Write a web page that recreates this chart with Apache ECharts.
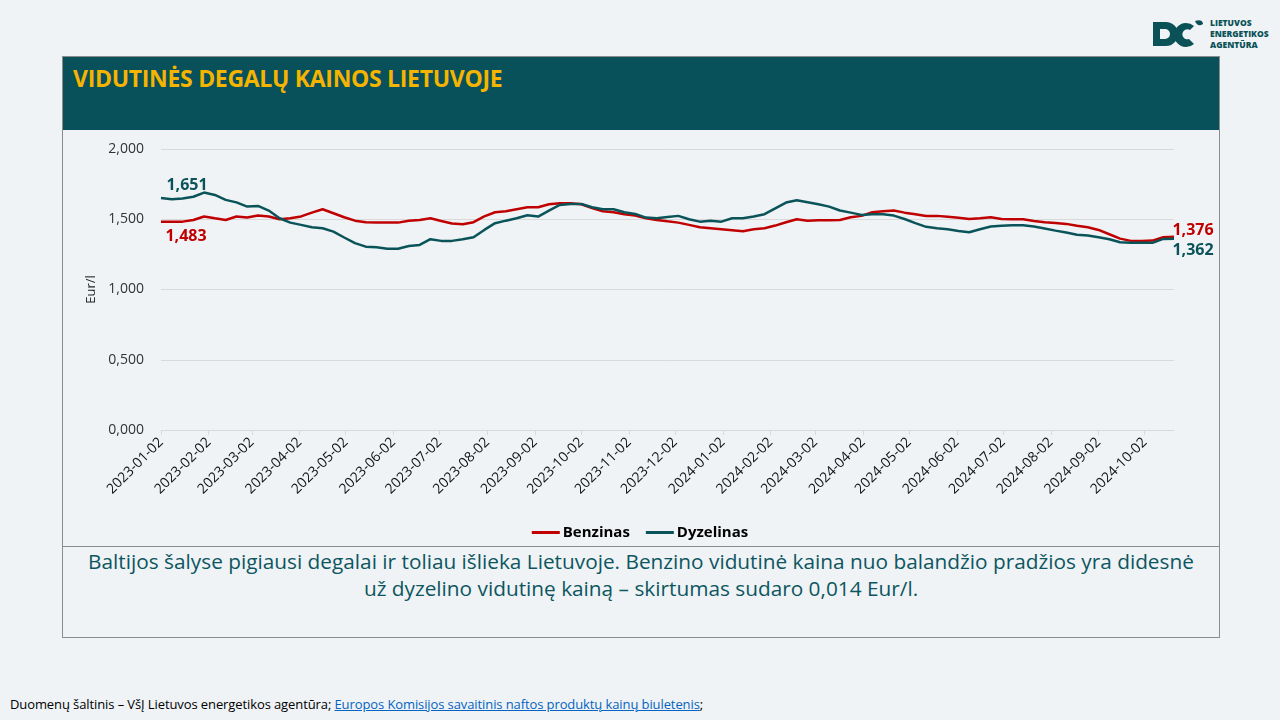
<!DOCTYPE html>
<html>
<head>
<meta charset="utf-8">
<script src="https://cdn.jsdelivr.net/npm/echarts@6/dist/echarts.min.js"></script>
<style>
  html, body { margin:0; padding:0; width:1280px; height:720px; background:#eff3f6; overflow:hidden; font-family:"Open Sans", sans-serif; }
  .abs { position:absolute; }
  #frame { left:62px; top:56px; width:1156px; height:580px; border:1px solid #8c8c8c; }
  #header { left:63px; top:57px; width:1156px; height:73px; background:#08505a; }
  #title { left:73px; top:62px; font-weight:700; font-size:23px; color:#f5b400; letter-spacing:-0.3px; }
  #divider { left:63px; top:546px; width:1156px; height:1px; background:#8c8c8c; }
  #note { left:63px; top:548px; width:1156px; text-align:center; font-size:20.8px; line-height:27px; color:#0d5660; }
  #footer { left:10px; top:695px; font-size:13px; color:#000; white-space:nowrap; letter-spacing:-0.1px; }
  #footer a { color:#0563c1; text-decoration:underline; }
  #logoText { left:1210px; top:17px; font-size:8.5px; line-height:11px; font-weight:800; color:#0b5258; }
  #chart { left:0; top:0; width:1280px; height:720px; }
</style>
</head>
<body>
<div id="frame" class="abs"></div>
<div id="header" class="abs"></div>
<div id="title" class="abs">VIDUTINĖS DEGALŲ KAINOS LIETUVOJE</div>
<div id="divider" class="abs"></div>
<div id="note" class="abs">Baltijos šalyse pigiausi degalai ir toliau išlieka Lietuvoje. Benzino vidutinė kaina nuo balandžio pradžios yra didesnė<br>už dyzelino vidutinę kainą – skirtumas sudaro 0,014 Eur/l.</div>
<div id="footer" class="abs">Duomenų šaltinis – VšĮ Lietuvos energetikos agentūra; <a href="#">Europos Komisijos savaitinis naftos produktų kainų biuletenis</a>;</div>
<svg class="abs" style="left:1150px;top:18px" width="56" height="32" viewBox="0 0 56 32">
  <path d="M3 4 H16 A12 12 0 0 1 16 28 H3 Z M10 11 V21 H15 A5 5 0 0 0 15 11 Z" fill="#0b5258" fill-rule="evenodd"/>
  <path d="M44 8 A12 12 0 1 0 44 26 L39 21 A5 5 0 1 1 40 12 Z" fill="#0b5258"/>
  <path d="M45 3 C50 1 53 3 53 6 C50 8 47 8 45 3 Z" fill="#0b5258"/>
</svg>
<div id="logoText" class="abs">LIETUVOS<br>ENERGETIKOS<br>AGENTŪRA</div>
<div id="chart" class="abs"></div>
<script>
// ---- data ----
const START_DATE = '2023-01-02';   // first weekly observation (Monday)
const END_DATE = '2024-10-21';     // last weekly observation
const tickLabels = ['2023-01-02','2023-02-02','2023-03-02','2023-04-02','2023-05-02','2023-06-02','2023-07-02','2023-08-02','2023-09-02','2023-10-02','2023-11-02','2023-12-02','2024-01-02','2024-02-02','2024-03-02','2024-04-02','2024-05-02','2024-06-02','2024-07-02','2024-08-02','2024-09-02','2024-10-02'];
const benzinas = [
  1.483,1.483,1.483,1.495,1.520,1.507,1.495,1.520,1.512,1.526,1.520,1.500,1.507,1.520,1.547,1.571,1.543,1.514,1.490,1.479,1.476,1.476,1.476,1.490,
  1.495,1.507,1.488,1.470,1.464,1.479,1.520,1.550,1.557,1.571,1.585,1.585,1.607,1.614,1.614,1.607,1.580,1.557,1.550,1.536,1.526,1.507,1.495,1.485,
  1.476,1.460,1.443,1.436,1.429,1.422,1.415,1.429,1.436,1.455,1.479,1.500,1.490,1.493,1.493,1.495,1.514,1.524,1.550,1.557,1.562,1.547,1.536,1.523,
  1.524,1.517,1.510,1.502,1.507,1.514,1.502,1.500,1.500,1.488,1.479,1.474,1.467,1.453,1.443,1.424,1.393,1.362,1.346,1.346,1.348,1.372,1.376
];
const dyzelinas = [
  1.651,1.642,1.648,1.660,1.690,1.673,1.638,1.620,1.590,1.595,1.562,1.507,1.476,1.460,1.443,1.436,1.412,1.370,1.330,1.305,1.300,1.290,1.290,1.310,
  1.317,1.358,1.346,1.346,1.358,1.372,1.424,1.472,1.490,1.507,1.528,1.519,1.562,1.602,1.609,1.609,1.585,1.571,1.571,1.550,1.538,1.512,1.507,1.516,
  1.524,1.500,1.483,1.490,1.483,1.507,1.507,1.519,1.536,1.578,1.619,1.635,1.621,1.607,1.590,1.562,1.547,1.531,1.536,1.536,1.526,1.502,1.472,1.446,
  1.436,1.429,1.417,1.407,1.429,1.448,1.453,1.457,1.457,1.448,1.434,1.419,1.405,1.390,1.384,1.372,1.358,1.336,1.332,1.332,1.332,1.360,1.362
];

// ---- axis construction ----
function fmtDate(d) {
  const m = String(d.getUTCMonth() + 1).padStart(2, '0');
  const day = String(d.getUTCDate()).padStart(2, '0');
  return d.getUTCFullYear() + '-' + m + '-' + day;
}
const dayCats = [];
for (let t = Date.parse(START_DATE + 'T00:00:00Z'); t <= Date.parse(END_DATE + 'T00:00:00Z'); t += 86400000) {
  dayCats.push(fmtDate(new Date(t)));
}
const weekDates = benzinas.map((_, i) => fmtDate(new Date(Date.parse(START_DATE + 'T00:00:00Z') + i * 7 * 86400000)));
const tickSet = new Set(tickLabels);
const fmtVal = v => v.toFixed(3).replace('.', ',');

const RED = '#c00000', TEAL = '#0a5459';
function buildData(values, color, firstPos, lastPos) {
  return values.map((v, i) => {
    const item = { value: [weekDates[i], v] };
    if (i === 0 || i === values.length - 1) {
      item.label = {
        show: true, position: i === 0 ? firstPos : lastPos, align: 'center', verticalAlign: 'middle',
        color: color, fontWeight: 'bold', fontSize: 16, fontFamily: 'Open Sans',
        formatter: p => fmtVal(p.value[1])
      };
    }
    return item;
  });
}

const chart = echarts.init(document.getElementById('chart'), null, { renderer: 'canvas' });
chart.setOption({
  animation: false,
  grid: { left: 161, right: 106, top: 149, bottom: 290, containLabel: false },
  legend: {
    bottom: 175, left: 'center', icon: 'rect', itemWidth: 28, itemHeight: 3, itemGap: 16,
    textStyle: { fontFamily: 'Open Sans', fontWeight: 'bold', fontSize: 15, color: '#000', padding: [0, 0, 0, -2] },
    data: ['Benzinas', 'Dyzelinas']
  },
  xAxis: {
    type: 'category', data: dayCats, boundaryGap: false,
    axisLine: { lineStyle: { color: '#d9d9d9', width: 1 } },
    axisTick: { interval: (i, v) => tickSet.has(v), length: 5, lineStyle: { color: '#d9d9d9' } },
    axisLabel: { interval: (i, v) => tickSet.has(v), rotate: 45, fontFamily: 'Open Sans', fontSize: 14, color: '#111', margin: 10 },
    splitLine: { show: false }
  },
  yAxis: {
    type: 'value', min: 0, max: 2, interval: 0.5,
    name: 'Eur/l', nameLocation: 'middle', nameRotate: 90, nameGap: 54,
    nameTextStyle: { fontFamily: 'Open Sans', fontSize: 13, color: '#222' },
    axisLine: { show: false }, axisTick: { show: false },
    axisLabel: { formatter: fmtVal, fontFamily: 'Open Sans', fontSize: 14, color: '#333', margin: 17 },
    splitLine: { lineStyle: { color: '#d9d9d9', width: 1 } }
  },
  series: [
    {
      name: 'Benzinas', type: 'line', data: buildData(benzinas, RED, [25, 15], [19, -6]),
      showSymbol: true, symbol: 'circle', symbolSize: 0, color: RED,
      lineStyle: { color: RED, width: 2.5 }, emphasis: { disabled: true }, z: 3
    },
    {
      name: 'Dyzelinas', type: 'line', data: buildData(dyzelinas, TEAL, [26, -13], [19, 12]),
      showSymbol: true, symbol: 'circle', symbolSize: 0, color: TEAL,
      lineStyle: { color: TEAL, width: 2.5 }, emphasis: { disabled: true }, z: 4
    }
  ]
});
</script>
</body>
</html>
